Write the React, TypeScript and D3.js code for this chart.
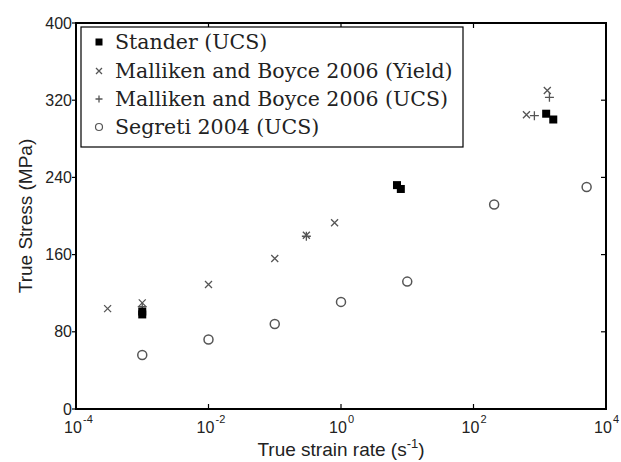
import React from "react";
import * as d3 from "d3";

// Strain rate (1/s) and true stress (MPa)
const standerRate = [0.001, 0.001, 7, 8, 1250, 1600];
const standerStress = [98, 101, 232, 228, 306, 300];

const yieldRate = [0.0003, 0.001, 0.01, 0.1, 0.3, 0.8, 630, 1300];
const yieldStress = [104, 110, 129, 156, 180, 193, 305, 330];

const ucsRate = [0.001, 0.3, 830, 1400];
const ucsStress = [106, 179, 304, 323];

const segretiRate = [0.001, 0.01, 0.1, 1, 10, 205, 5100];
const segretiStress = [56, 72, 88, 111, 132, 212, 230];

const xTickExps = [-4, -2, 0, 2, 4];
const yTicks = [0, 80, 160, 240, 320, 400];

const legendLabels = [
  "Stander (UCS)",
  "Malliken and Boyce 2006 (Yield)",
  "Malliken and Boyce 2006 (UCS)",
  "Segreti 2004 (UCS)",
];

const W = 621;
const H = 462;
const M = { left: 76, right: 15, top: 23, bottom: 53 };
const GREY = "#555";

export default function App() {
  const x = d3.scaleLog().domain([1e-4, 1e4]).range([M.left, W - M.right]);
  const y = d3.scaleLinear().domain([0, 400]).range([H - M.bottom, M.top]);
  const x0 = M.left, x1 = W - M.right, y0 = H - M.bottom, y1 = M.top;

  const cross = (cx: number, cy: number, s: number, key: string) => (
    <path key={key} d={`M${cx - s},${cy - s}L${cx + s},${cy + s}M${cx - s},${cy + s}L${cx + s},${cy - s}`}
      stroke={GREY} strokeWidth={1.3} fill="none" />
  );
  const plus = (cx: number, cy: number, s: number, key: string) => (
    <path key={key} d={`M${cx - s},${cy}L${cx + s},${cy}M${cx},${cy - s}L${cx},${cy + s}`}
      stroke={GREY} strokeWidth={1.3} fill="none" />
  );

  const lx = 99;
  const rowY = [42, 71, 99, 127];

  return (
    <svg width={W} height={H} style={{ position: "absolute", left: 0, top: 0, background: "#fff" }}
      fontFamily="'Liberation Sans', Arial, sans-serif">
      <rect x={0} y={0} width={W} height={H} fill="#fff" />

      {/* ticks */}
      {xTickExps.map((e) => {
        const px = x(Math.pow(10, e));
        return (
          <g key={"xt" + e}>
            <line x1={px} x2={px} y1={y0} y2={y0 - 5} stroke="#000" strokeWidth={1.2} />
            <line x1={px} x2={px} y1={y1} y2={y1 + 5} stroke="#000" strokeWidth={1.2} />
            <text x={px - 3} y={433} fontSize={16} textAnchor="middle" fill="#222">
              10
            </text>
            <text x={px + 7} y={423} fontSize={11} textAnchor="start" fill="#222">
              {e}
            </text>
          </g>
        );
      })}
      {yTicks.map((v) => {
        const py = y(v);
        return (
          <g key={"yt" + v}>
            <line x1={x0 - 4} x2={x0} y1={py} y2={py} stroke="#000" strokeWidth={1.2} />
            <line x1={x1} x2={x1 - 5} y1={py} y2={py} stroke="#000" strokeWidth={1.2} />
            <text x={x0 - 4} y={py + 5.5} fontSize={16} textAnchor="end" fill="#222">
              {v}
            </text>
          </g>
        );
      })}

      {/* axes box */}
      <rect x={x0} y={y1} width={x1 - x0} height={y0 - y1} fill="none" stroke="#000" strokeWidth={2} />

      {/* data */}
      {segretiRate.map((r, i) => (
        <circle key={"s" + i} cx={x(r)} cy={y(segretiStress[i])} r={4.5} fill="none" stroke={GREY} strokeWidth={1.5} />
      ))}
      {yieldRate.map((r, i) => cross(x(r), y(yieldStress[i]), 3.5, "y" + i))}
      {ucsRate.map((r, i) => plus(x(r), y(ucsStress[i]), 4.5, "u" + i))}
      {standerRate.map((r, i) => (
        <rect key={"st" + i} x={x(r) - 4} y={y(standerStress[i]) - 4} width={8} height={8} fill="#000" />
      ))}

      {/* legend */}
      <rect x={81} y={27} width={382} height={120} fill="#fff" stroke="#000" strokeWidth={1.2} />
      <rect x={lx - 3.5} y={rowY[0] - 3.5} width={7} height={7} fill="#000" />
      {cross(lx, rowY[1], 3, "lc")}
      {plus(lx, rowY[2], 3.5, "lp")}
      <circle cx={lx} cy={rowY[3]} r={3.5} fill="none" stroke={GREY} strokeWidth={1.2} />
      {legendLabels.map((t, i) => (
        <text key={"l" + i} x={115} y={rowY[i] + 7} fontSize={20.5}
          fontFamily="'DejaVu Serif', 'Liberation Serif', serif" fill="#222">
          {t}
        </text>
      ))}

      {/* axis titles */}
      <text x={(x0 + x1) / 2} y={456} fontSize={19} textAnchor="middle" fill="#222">
        True strain rate (s
        <tspan fontSize={13} dy={-8}>-1</tspan>
        <tspan dy={8}>)</tspan>
      </text>
      <text transform={`translate(32,${(y0 + y1) / 2}) rotate(-90)`} fontSize={19} textAnchor="middle" fill="#222">
        True Stress (MPa)
      </text>
    </svg>
  );
}
